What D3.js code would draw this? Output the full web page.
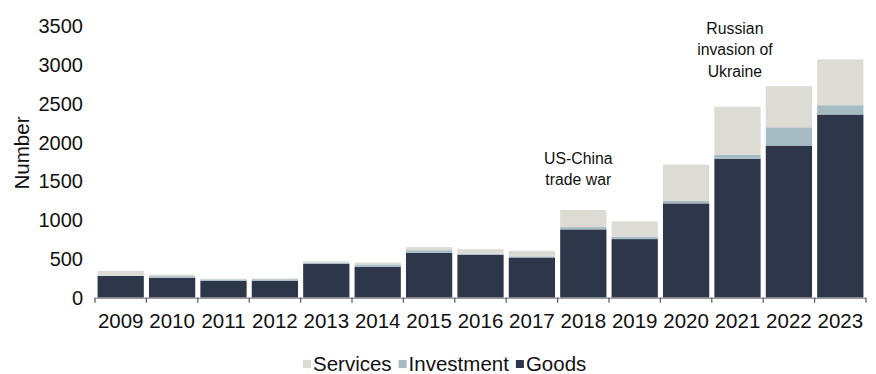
<!DOCTYPE html>
<html>
<head>
<meta charset="utf-8">
<script src="https://cdn.jsdelivr.net/npm/d3@7"></script>
<style>
  html, body { margin: 0; padding: 0; background: #fff; }
  svg { display: block; font-family: "Liberation Sans", Arial, sans-serif; }
</style>
</head>
<body>
<svg id="chart" width="876" height="374"></svg>
<script>
// Yearly counts by category (stacked: Goods at the base, then Investment, then Services)
const years = ["2009","2010","2011","2012","2013","2014","2015","2016","2017","2018","2019","2020","2021","2022","2023"];
const goods      = [280, 256, 218, 218, 436, 398, 578, 552, 518, 880, 755, 1215, 1790, 1960, 2360];
const investment = [  5,  22,  18,  20,  15,  30,  34,  15,  15,  30,  30,   35,   50,  235,  120];
const services   = [ 60,  20,   8,  10,  18,  25,  38,  58,  70, 220, 200,  465,  620,  530,  590];
const yTicks = [0, 500, 1000, 1500, 2000, 2500, 3000, 3500];
const seriesNames = ["Goods", "Investment", "Services"];
const legendOrder = ["Services", "Investment", "Goods"];
const colors = { Goods: "#2e3649", Investment: "#a6bcc4", Services: "#dcdcd5" };

// event notes, keyed to the year they refer to
const noteYears = ["2018", "2022"];
const noteLines = [["US-China", "trade war"], ["Russian", "invasion of", "Ukraine"]];

const rows = years.map((yr, i) => ({
  year: yr, Goods: goods[i], Investment: investment[i], Services: services[i]
}));

const svg = d3.select("#chart");
const plotLeft = 95, plotRight = 866, plotTop = 26, plotBottom = 297.7;

const x = d3.scaleBand().domain(years).range([plotLeft, plotRight])
  .paddingInner(0.1).paddingOuter(0.05);
const y = d3.scaleLinear().domain([0, 3500]).range([plotBottom, plotTop]);

const stacked = d3.stack().keys(seriesNames)(rows);

// stacked bars
svg.append("g").selectAll("g").data(stacked).join("g")
  .attr("fill", d => colors[d.key])
  .selectAll("rect").data(d => d).join("rect")
  .attr("x", d => x(d.data.year))
  .attr("width", x.bandwidth())
  .attr("y", d => y(d[1]))
  .attr("height", d => y(d[0]) - y(d[1]));

// y tick labels (no axis line)
svg.append("g").selectAll("text").data(yTicks).join("text")
  .attr("x", 83).attr("y", d => y(d)).attr("dy", "0.36em")
  .attr("text-anchor", "end").attr("font-size", 20).attr("fill", "#111")
  .text(d => d);

// x axis line with ticks at band boundaries
const step = x.step();
const x0 = x(years[0]) - x.paddingOuter() * step;
const axisG = svg.append("g");
axisG.append("line")
  .attr("x1", x0).attr("x2", x0 + step * years.length)
  .attr("y1", plotBottom + 0.5).attr("y2", plotBottom + 0.5)
  .attr("stroke", "#9a9a9a").attr("stroke-width", 1.5);
axisG.selectAll("line.tick").data(d3.range(years.length + 1)).join("line")
  .attr("class", "tick")
  .attr("x1", i => x0 + i * step).attr("x2", i => x0 + i * step)
  .attr("y1", plotBottom).attr("y2", plotBottom + 5)
  .attr("stroke", "#555").attr("stroke-width", 1.2);
axisG.selectAll("text").data(years).join("text")
  .attr("x", d => x(d) + x.bandwidth() / 2).attr("y", 328)
  .attr("text-anchor", "middle").attr("font-size", 20.5).attr("fill", "#111")
  .text(d => d);

// y axis title
svg.append("text")
  .attr("transform", "translate(29,153) rotate(-90)")
  .attr("text-anchor", "middle").attr("font-size", 20.5).attr("fill", "#111")
  .text("Number");

// event notes: placed above the bars, shifted left of their year band
const noteShift = { "2018": -5, "2022": -54 };
const noteFirstLine = { "2018": 158, "2022": 28 };
noteYears.forEach((yr, k) => {
  const t = svg.append("text")
    .attr("text-anchor", "middle").attr("font-size", 15.8).attr("fill", "#111");
  noteLines[k].forEach((ln, i) => {
    t.append("tspan")
      .attr("x", x(yr) + x.bandwidth() / 2 + noteShift[yr])
      .attr("y", noteFirstLine[yr] + 5.5 + i * 21.5)
      .text(ln);
  });
});

// legend
const legend = svg.append("g");
let lx = 303;
legendOrder.forEach(name => {
  const g = legend.append("g");
  g.append("rect").attr("x", lx).attr("y", 360).attr("width", 8).attr("height", 8)
    .attr("fill", colors[name]);
  const txt = g.append("text").attr("x", lx + 10).attr("y", 371)
    .attr("font-size", 20.5).attr("fill", "#111").text(name);
  lx += 10 + txt.node().getComputedTextLength() + 7;
});
</script>
</body>
</html>
